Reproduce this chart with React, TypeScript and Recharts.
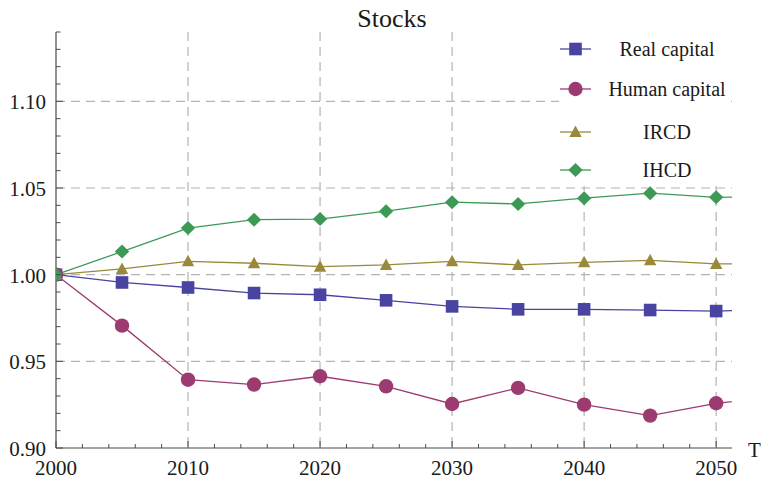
import React from 'react';
import { LineChart, Line, XAxis, YAxis, CartesianGrid, Legend } from 'recharts';

const years = [2000, 2005, 2010, 2015, 2020, 2025, 2030, 2035, 2040, 2045, 2050, 2055];
const realCapital = [1.0, 0.9955, 0.9926, 0.9894, 0.9884, 0.9852, 0.9817, 0.98, 0.98, 0.9796, 0.979, 0.98];
const humanCapital = [1.0, 0.9706, 0.9394, 0.9366, 0.9414, 0.9356, 0.9254, 0.9347, 0.925, 0.9187, 0.9258, 0.93];
const ircd = [1.0, 1.0033, 1.0077, 1.0066, 1.0046, 1.0056, 1.0077, 1.0056, 1.0071, 1.0083, 1.0062, 1.0062];
const ihcd = [1.0, 1.0133, 1.0269, 1.0317, 1.0321, 1.0366, 1.0418, 1.0408, 1.0441, 1.047, 1.0446, 1.0453];

const seriesNames = ['Real capital', 'Human capital', 'IRCD', 'IHCD'];
const chartTitle = 'Stocks';
const xAxisTitle = 'T';

const xTicks = [2000, 2002, 2004, 2006, 2008, 2010, 2012, 2014, 2016, 2018, 2020, 2022, 2024, 2026, 2028, 2030, 2032, 2034, 2036, 2038, 2040, 2042, 2044, 2046, 2048, 2050];
const xMajorTicks = [2000, 2010, 2020, 2030, 2040, 2050];
const yTicks = [0.9, 0.91, 0.92, 0.93, 0.94, 0.95, 0.96, 0.97, 0.98, 0.99, 1.0, 1.01, 1.02, 1.03, 1.04, 1.05, 1.06, 1.07, 1.08, 1.09, 1.1, 1.11, 1.12, 1.13, 1.14];
const yMajorTicks = [0.9, 0.95, 1.0, 1.05, 1.1];
const xGridValues = [2010, 2020, 2030, 2040, 2050];
const yGridValues = [0.95, 1.0, 1.05, 1.1];

const data = years.map((year, i) => ({
  year,
  real: realCapital[i],
  human: humanCapital[i],
  ircd: ircd[i],
  ihcd: ihcd[i],
}));

const FONT = 'Liberation Serif, Times New Roman, serif';
const AXIS = '#4a4a4a';
const TEXT = '#1a1a1a';
const COLORS = ['#4944a1', '#9c3b70', '#998a3b', '#3d9a56'];
const SHAPES = ['square', 'circle', 'triangle', 'diamond'];
const KEYS = ['real', 'human', 'ircd', 'ihcd'];

const txt = (size: number) => ({ fontFamily: FONT, fontSize: size });

function marker(shape: string, cx: number, cy: number, color: string, key?: string) {
  if (shape === 'square') return <rect key={key} x={cx - 6.3} y={cy - 6.3} width={12.6} height={12.6} fill={color} />;
  if (shape === 'circle') return <circle key={key} cx={cx} cy={cy} r={7.2} fill={color} />;
  if (shape === 'triangle')
    return <polygon key={key} points={`${cx},${cy - 6.5} ${cx + 6.2},${cy + 5} ${cx - 6.2},${cy + 5}`} fill={color} />;
  return <polygon key={key} points={`${cx},${cy - 7} ${cx + 7.2},${cy} ${cx},${cy + 7} ${cx - 7.2},${cy}`} fill={color} />;
}

const XTick = (props: any) => {
  const { x, y, payload } = props;
  const major = xMajorTicks.includes(payload.value);
  return (
    <g>
      <line x1={x} x2={x} y1={y} y2={y - (major ? 7 : 4)} stroke={AXIS} strokeWidth={1} />
      {major && (
        <text x={x} y={y + 27} textAnchor="middle" style={txt(21)} fill={TEXT}>
          {payload.value}
        </text>
      )}
    </g>
  );
};

const YTick = (props: any) => {
  const { x, y, payload } = props;
  const major = yMajorTicks.some((v) => Math.abs(v - payload.value) < 1e-6);
  return (
    <g>
      <line x1={x} x2={x + (major ? 7 : 4.5)} y1={y} y2={y} stroke={AXIS} strokeWidth={1} />
      {major && (
        <text x={x - 10} y={y + 8} textAnchor="end" style={txt(21)} fill={TEXT}>
          {payload.value.toFixed(2)}
        </text>
      )}
    </g>
  );
};

const renderLegend = (props: any) => {
  const payload = props.payload || [];
  const rowY = [21, 61, 104, 142];
  return (
    <svg width={170} height={158} style={{ display: 'block' }}>
      <rect x={0} y={0} width={170} height={158} fill="#ffffff" />
      {seriesNames.map((name, i) => {
        const entry = payload.find((e: any) => e.value === name);
        if (!entry) return null;
        const color = entry.color || COLORS[i];
        const y = rowY[i];
        return (
          <g key={name}>
            <line x1={1} x2={32} y1={y} y2={y} stroke={color} strokeWidth={1.3} />
            {marker(SHAPES[i], 16.5, y, color)}
            <text x={108} y={y + 7} textAnchor="middle" style={txt(20)} fill={TEXT}>
              {entry.value}
            </text>
          </g>
        );
      })}
    </svg>
  );
};

const TLabel = (props: any) => {
  const vb = props.viewBox || {};
  return (
    <text x={748} y={vb.y + 9} style={txt(21)} fill={TEXT}>
      {xAxisTitle}
    </text>
  );
};

export default function App() {
  return (
    <div style={{ position: 'absolute', left: 0, top: 0, width: 761, height: 479, background: '#fff' }}>
      <LineChart
        width={761}
        height={479}
        data={data}
        margin={{ top: 32, right: 29, bottom: 0, left: 0 }}
      >
        <text x={392} y={27} textAnchor="middle" style={txt(26)} fill={TEXT}>
          {chartTitle}
        </text>
        <CartesianGrid
          horizontalValues={yGridValues}
          verticalValues={xGridValues}
          stroke="#b3b3b3"
          strokeWidth={1.2}
          strokeDasharray="9 6"
        />
        <XAxis
          dataKey="year"
          type="number"
          domain={[2000, 2051.2]}
          allowDataOverflow
          ticks={xTicks}
          interval={0}
          tick={<XTick />}
          tickLine={false}
          tickSize={0}
          tickMargin={0}
          height={31}
          stroke={AXIS}
          axisLine={{ stroke: AXIS, strokeWidth: 1.2 }}
          label={<TLabel />}
        />
        <YAxis
          type="number"
          domain={[0.9, 1.14]}
          allowDataOverflow
          ticks={yTicks}
          interval={0}
          tick={<YTick />}
          tickLine={false}
          tickSize={0}
          tickMargin={0}
          width={56}
          axisLine={{ stroke: AXIS, strokeWidth: 1.2 }}
        />
        <Legend
          content={renderLegend}
          wrapperStyle={{ left: 559, top: 28, width: 170, height: 0, overflow: 'visible' }}
        />
        {KEYS.map((k, i) => (
          <Line
            key={k}
            dataKey={k}
            name={seriesNames[i]}
            stroke={COLORS[i]}
            strokeWidth={1.3}
            isAnimationActive={false}
            dot={(p: any) =>
              p.cx == null || isNaN(p.cy) ? <g key={`${k}-${p.index}`} /> : marker(SHAPES[i], p.cx, p.cy, COLORS[i], `${k}-${p.index}`)
            }
            activeDot={false}
          />
        ))}
      </LineChart>
    </div>
  );
}
